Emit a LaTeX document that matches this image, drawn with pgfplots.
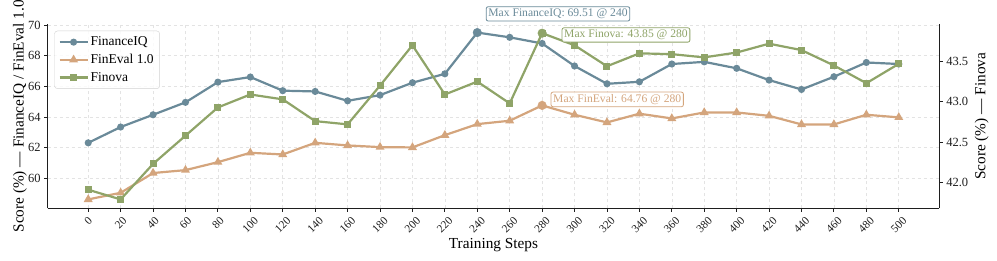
\documentclass[border=0pt]{standalone}
\usepackage{fontspec}
\setmainfont{Liberation Serif}
\usepackage{graphicx}
\usepackage{pgfplots}
\usepackage{pgfplotstable}
\pgfplotsset{compat=1.18}
\definecolor{cIQ}{RGB}{106,138,153}
\definecolor{cEV}{RGB}{212,165,125}
\definecolor{cFN}{RGB}{143,164,104}
\definecolor{spine}{RGB}{30,30,30}

\pgfplotstableread{
step iq ev fn
0   62.32 58.63 41.91
20  63.35 59.06 41.79
40  64.15 60.35 42.23
60  64.96 60.54 42.58
80  66.28 61.06 42.93
100 66.61 61.67 43.09
120 65.72 61.56 43.03
140 65.67 62.32 42.76
160 65.06 62.15 42.72
180 65.43 62.04 43.20
200 66.24 62.02 43.70
220 66.82 62.82 43.09
240 69.51 63.54 43.25
260 69.20 63.76 42.98
280 68.80 64.76 43.85
300 67.33 64.15 43.70
320 66.17 63.65 43.44
340 66.30 64.22 43.60
360 67.46 63.91 43.59
380 67.60 64.30 43.55
400 67.18 64.30 43.61
420 66.41 64.08 43.72
440 65.80 63.52 43.64
460 66.63 63.52 43.45
480 67.56 64.15 43.23
500 67.46 63.98 43.47
}\data

\tikzset{
  annot/.style={draw=#1, text=#1, fill=white, fill opacity=0.85, text opacity=1,
    rounded corners=2pt, line width=0.8pt, inner sep=2.2pt,
    font=\fontsize{11.6}{13}\selectfont},
}
\pgfplotsset{
  base/.style={
    width=891.6pt, height=184pt, scale only axis,
    xmin=-25, xmax=525,
    axis line style={-, spine, line width=1.1pt},
    tick style={spine, line width=0.9pt},
    tick align=outside, major tick length=3.5pt,
    /pgf/number format/assume math mode=true,
    ticklabel style={font=\fontsize{12.5}{14}\selectfont, text=spine},
  },
  ser/.style={line width=2.2pt, mark options={solid}},
}

\begin{document}
\begin{tikzpicture}
\useasboundingbox (-47.7pt,-52.7pt) rectangle (949.3pt,208.3pt);
\begin{axis}[base,
  clip=false,
  axis x line*=bottom, axis y line*=left,
  ymin=58.05, ymax=70.05,
  ytick={60,62,64,66,68,70},
  xtick={0,20,...,500},
  xticklabel={\rotatebox{45}{\pgfmathprintnumber{\tick}}},
  xticklabel style={anchor=north, yshift=-0.5pt, font=\fontsize{11.3}{12}\selectfont},
  grid=major,
  major grid style={dashed, line width=0.6pt, gray!22},
  xlabel={Training Steps},
  ylabel={Score (\%) — FinanceIQ / FinEval 1.0},
  every axis x label/.style={at={(axis description cs:0.5,0)}, yshift=-37pt, anchor=center, font=\fontsize{15.3}{18}\selectfont},
  every axis y label/.style={at={(axis description cs:0,0.5)}, xshift=-27.7pt, rotate=90, anchor=center, font=\fontsize{15.3}{18}\selectfont},
  legend style={at={(axis description cs:0.0074,0.965)}, anchor=north west,
    draw=gray!35, rounded corners=3pt, fill=white, fill opacity=0.85, text opacity=1,
    font=\fontsize{13.5}{15}\selectfont, row sep=3pt, inner sep=4pt},
  legend cell align=left,
  legend image code/.code={\draw[#1, mark repeat=2, mark phase=2] plot coordinates {(0pt,0pt)(14pt,0pt)(28pt,0pt)};},
]
\addplot[ser, cIQ, mark=*, mark size=2.4pt] table[x=step,y=iq] {\data};
\addlegendentry{FinanceIQ}
\addplot[ser, cEV, mark=triangle*, mark size=3pt] table[x=step,y=ev] {\data};
\addlegendentry{FinEval 1.0}
\addlegendimage{ser, cFN, mark=square*, mark size=2.4pt}
\addlegendentry{Finova}
\addplot[only marks, cIQ, mark=*, mark size=4.3pt, forget plot] coordinates {(240,69.51)};
\addplot[only marks, cEV, mark=*, mark size=4.3pt, forget plot] coordinates {(280,64.76)};
\node[annot=cIQ, anchor=west, xshift=8.5pt, yshift=18.7pt] at (axis cs:240,69.51) {Max FinanceIQ: 69.51 @ 240};
\node[annot=cEV, anchor=west, xshift=8.5pt, yshift=6pt] at (axis cs:280,64.76) {Max FinEval: 64.76 @ 280};
\end{axis}
\begin{axis}[base,
  clip=false,
  axis x line=none, axis y line*=right,
  ymin=41.68, ymax=43.96,
  ytick={42.0,42.5,43.0,43.5},
  yticklabel style={/pgf/number format/.cd, fixed, fixed zerofill, precision=1},
  ylabel={Score (\%) — Finova},
  every axis y label/.style={at={(axis description cs:1,0.5)}, xshift=42.4pt, rotate=90, anchor=center, font=\fontsize{15.3}{18}\selectfont},
]
\addplot[ser, cFN, mark=square*, mark size=2.4pt] table[x=step,y=fn] {\data};
\addplot[only marks, cFN, mark=*, mark size=4.3pt] coordinates {(280,43.85)};
\node[annot=cFN, anchor=west, xshift=19.5pt, yshift=-1.8pt] at (axis cs:280,43.85) {Max Finova: 43.85 @ 280};
\end{axis}
\end{tikzpicture}
\end{document}
